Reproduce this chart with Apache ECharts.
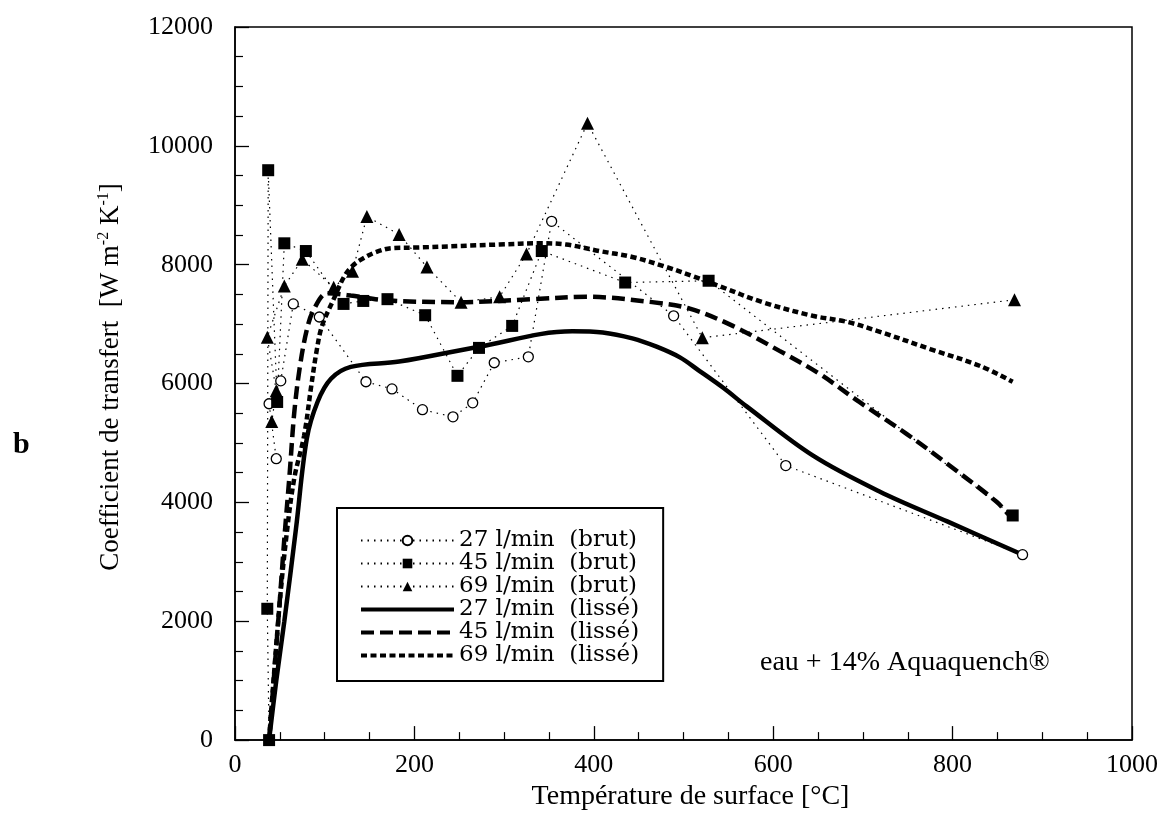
<!DOCTYPE html>
<html>
<head>
<meta charset="utf-8">
<script src="https://cdn.jsdelivr.net/npm/echarts@6/dist/echarts.min.js"></script>
<style>
  html, body { margin: 0; padding: 0; background: #fff; }
  #chart { width: 1166px; height: 816px; }
</style>
</head>
<body>
<div id="chart"></div>
<script>
// données brutes (température de surface °C, coefficient W m-2 K-1)
var t27Raw = [878, 614, 489, 353, 327, 289, 265, 243, 209, 175, 146, 94, 65, 51, 38, 46];
var h27Raw = [3120, 4620, 7140, 8730, 6450, 6350, 5675, 5440, 5560, 5910, 6030, 7120, 7340, 6045, 5660, 4735];

var t45Raw = [867, 528, 435, 342, 309, 272, 248, 212, 170, 143, 121, 79, 55, 47, 37, 36, 38];
var h45Raw = [3780, 7730, 7700, 8230, 6970, 6600, 6130, 7150, 7420, 7390, 7340, 8230, 8360, 5690, 9590, 2210, 0];

var t69Raw = [869, 521, 393, 325, 295, 252, 214, 183, 147, 131, 110, 75, 55, 36, 46, 41];
var h69Raw = [7410, 6770, 10380, 8180, 7460, 7370, 7960, 8510, 8810, 7890, 7620, 8090, 7640, 6780, 5880, 5360];

// courbes lissées
var t27Fit = [38, 46, 55, 68, 80, 92, 107, 129, 183, 272, 376, 410, 443, 470, 496, 518, 545, 570, 644, 719, 794, 875];
var h27Fit = [0, 1000, 2000, 3560, 5070, 5690, 6080, 6280, 6370, 6620, 6880, 6860, 6760, 6620, 6440, 6210, 5920, 5620, 4790, 4180, 3680, 3140];

var t45Fit = [38, 49, 55, 61, 66, 72, 80, 88, 103, 129, 169, 250, 331, 392, 465, 507, 555, 607, 652, 696, 749, 794, 849, 862];
var h45Fit = [0, 2160, 3390, 4500, 5500, 6250, 6900, 7250, 7520, 7480, 7400, 7370, 7420, 7460, 7370, 7260, 6970, 6550, 6160, 5690, 5150, 4650, 4010, 3800];

var t69Fit = [38, 49, 57, 66, 77, 85, 91, 97, 110, 122, 131, 141, 157, 175, 205, 295, 339, 369, 406, 443, 481, 510, 540, 588, 644, 682, 719, 775, 830, 867];
var h69Fit = [0, 2160, 3390, 4400, 5120, 5960, 6550, 6970, 7420, 7810, 7980, 8090, 8210, 8280, 8290, 8340, 8360, 8340, 8230, 8130, 7960, 7810, 7640, 7370, 7140, 7040, 6870, 6580, 6300, 6030];

var seriesNames = ['27 l/min  (brut)', '45 l/min  (brut)', '69 l/min  (brut)',
                   '27 l/min  (lissé)', '45 l/min  (lissé)', '69 l/min  (lissé)'];

var serif = 'Liberation Serif';

function zip(t, h) {
  return t.map(function (v, i) { return [v, h[i]]; });
}

function rawSeries(name, t, h, symbol, size, hollow) {
  return {
    name: name,
    type: 'line',
    data: zip(t, h),
    symbol: symbol,
    symbolSize: size,
    showAllSymbol: true,
    lineStyle: { color: '#000', width: 1.2, type: [1.5, 5] },
    itemStyle: hollow
      ? { color: '#fff', borderColor: '#000', borderWidth: 1.3 }
      : { color: '#000', borderColor: '#000', borderWidth: 0 },
    z: 3
  };
}

function fitSeries(name, t, h, dash, width) {
  return {
    name: name,
    type: 'line',
    data: zip(t, h),
    smooth: 0.35,
    symbol: 'none',
    lineStyle: { color: '#000', width: width, type: dash, cap: 'butt' },
    itemStyle: { color: '#000' },
    z: 2
  };
}

function plainNumber(v) { return String(v); }

var legendItems = seriesNames.map(function (n, i) {
  return i < 3 ? { name: n } : { name: n, itemStyle: { opacity: 0 }, lineStyle: { width: 4 } };
});

var chart = echarts.init(document.getElementById('chart'));

var option = {
  backgroundColor: '#fff',
  animation: false,
  grid: {
    left: 235, right: 34, top: 27, bottom: 74,
    show: true, borderColor: '#000', borderWidth: 1.5
  },
  xAxis: {
    type: 'value',
    min: 0, max: 1000, interval: 200,
    name: 'Température de surface [°C]',
    nameLocation: 'middle',
    nameGap: 32,
    nameTextStyle: { fontFamily: serif, fontSize: 28, color: '#000', padding: [0, 0, 0, 14] },
    axisLine: { lineStyle: { color: '#000', width: 1.5 } },
    axisTick: { inside: true, length: 14, lineStyle: { color: '#000', width: 1.3 } },
    minorTick: { show: true, splitNumber: 4, length: 8, lineStyle: { color: '#000', width: 1.2 } },
    splitLine: { show: false },
    axisLabel: { fontFamily: serif, fontSize: 26, color: '#000', margin: 12, formatter: plainNumber }
  },
  yAxis: {
    type: 'value',
    min: 0, max: 12000, interval: 2000,
    axisLine: { lineStyle: { color: '#000', width: 1.5 } },
    axisTick: { inside: true, length: 14, lineStyle: { color: '#000', width: 1.3 } },
    minorTick: { show: true, splitNumber: 4, length: 8, lineStyle: { color: '#000', width: 1.2 } },
    splitLine: { show: false },
    axisLabel: { fontFamily: serif, fontSize: 26, color: '#000', margin: 22, formatter: plainNumber }
  },
  legend: {
    data: legendItems,
    orient: 'vertical',
    left: 337, top: 508,
    selectedMode: false,
    backgroundColor: '#fff',
    borderColor: '#000',
    borderWidth: 2,
    padding: [21, 24, 14, 22],
    itemWidth: 93,
    itemHeight: 12,
    itemGap: 0,
    textStyle: { fontFamily: 'DejaVu Serif', fontSize: 23, color: '#000', lineHeight: 23 }
  },
  graphic: [
    {
      type: 'text',
      x: 111, y: 377,
      rotation: Math.PI / 2,
      style: {
        text: '{n|Coefficient de transfert  [W m}{s|-2}{n| K}{s|-1}{n|]}',
        align: 'center',
        verticalAlign: 'middle',
        fill: '#000',
        rich: {
          n: { fontFamily: serif, fontSize: 27, fill: '#000', lineHeight: 30 },
          s: { fontFamily: serif, fontSize: 16, fill: '#000', verticalAlign: 'top', lineHeight: 30 }
        }
      }
    },
    {
      type: 'text',
      x: 13, y: 445,
      style: {
        text: 'b',
        font: 'bold 30px "Liberation Serif"',
        fill: '#000',
        verticalAlign: 'middle'
      }
    },
    {
      type: 'text',
      x: 760, y: 663,
      style: {
        text: 'eau + 14% Aquaquench®',
        font: '28px "Liberation Serif"',
        fill: '#000',
        verticalAlign: 'middle'
      }
    }
  ],
  series: [
    rawSeries(seriesNames[0], t27Raw, h27Raw, 'circle', 10, true),
    rawSeries(seriesNames[1], t45Raw, h45Raw, 'rect', 12, false),
    rawSeries(seriesNames[2], t69Raw, h69Raw, 'triangle', 13, false),
    fitSeries(seriesNames[3], t27Fit, h27Fit, 'solid', 4.5),
    fitSeries(seriesNames[4], t45Fit, h45Fit, [13, 6], 4.5),
    fitSeries(seriesNames[5], t69Fit, h69Fit, [6, 3.5], 4.5)
  ]
};

chart.setOption(option);
</script>
</body>
</html>
